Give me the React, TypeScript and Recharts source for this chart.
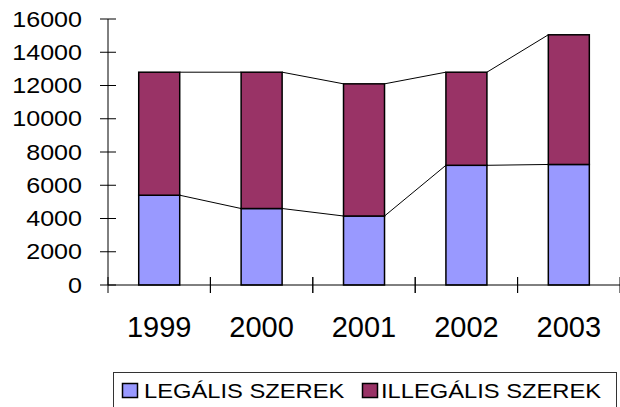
import { Bar, BarChart, XAxis, YAxis } from 'recharts';

const years = ['1999', '2000', '2001', '2002', '2003'];
const legal = [5400, 4600, 4150, 7200, 7250];
const illegal = [7400, 8200, 7950, 5600, 7800];
const yTicks = [0, 2000, 4000, 6000, 8000, 10000, 12000, 14000, 16000];
const seriesNames = ['LEGÁLIS SZEREK', 'ILLEGÁLIS SZEREK'];

const totals = legal.map((v, i) => v + illegal[i]);
const data = years.map((year, i) => ({ year, legal: legal[i], illegal: illegal[i] }));

const W = 620;
const H = 407;
const Y_AXIS_W = 108;
const PLOT_W = W - Y_AXIS_W;
const BAND = PLOT_W / years.length;
const FONT = '"Liberation Sans", Arial, sans-serif';
const LEGAL_COLOR = '#9999ff';
const ILLEGAL_COLOR = '#993366';

// bar with an Excel-style series line running to the next column
const makeShape = (key: 'legal' | 'illegal') => (props: any) => {
  const { x, y, width, height, index, fill } = props;
  const vals = key === 'legal' ? legal : illegal;
  const cum = key === 'legal' ? legal : totals;
  const k = height / vals[index];
  const hasNext = index < years.length - 1;
  return (
    <g>
      <rect x={x} y={y} width={width} height={height} fill={fill} stroke="#000" strokeWidth={1.5} />
      {hasNext && (
        <line
          x1={x + width}
          y1={y}
          x2={x + BAND}
          y2={y - (cum[index + 1] - cum[index]) * k}
          stroke="#000"
          strokeWidth={1}
        />
      )}
    </g>
  );
};

const YTick = (props: any) => {
  const { x, y, payload } = props;
  return (
    <g>
      <line x1={x - 8} x2={x + 8} y1={y} y2={y} stroke="#000" />
      <text
        transform={`translate(${x - 26},${y + 7.5}) scale(1.14,1)`}
        textAnchor="end"
        fontSize={22}
        fontFamily={FONT}
        fill="#000"
      >
        {payload.value}
      </text>
    </g>
  );
};

const XTick = (props: any) => {
  const { x, y, payload } = props;
  return (
    <g>
      <line x1={x - BAND / 2} x2={x - BAND / 2} y1={y - 8} y2={y + 8} stroke="#000" />
      <line x1={x + BAND / 2} x2={x + BAND / 2} y1={y - 8} y2={y + 8} stroke="#000" />
      <text x={x} y={y + 52} textAnchor="middle" fontSize={29} fontFamily={FONT} fill="#000">
        {payload.value}
      </text>
    </g>
  );
};

export default function App() {
  return (
    <div style={{ position: 'absolute', left: 0, top: 0, width: W, height: H, background: '#fff' }}>
      <BarChart
        width={W}
        height={H}
        data={data}
        margin={{ top: 19, right: 0, left: 0, bottom: 72 }}
        barCategoryGap="30%"
      >
        <XAxis
          dataKey="year"
          height={50}
          tickSize={0}
          tickMargin={0}
          tick={<XTick />}
          axisLine={{ stroke: '#000' }}
          tickLine={false}
          interval={0}
        />
        <YAxis
          width={Y_AXIS_W}
          domain={[0, 16000]}
          ticks={yTicks}
          tickSize={0}
          tickMargin={0}
          tick={<YTick />}
          axisLine={{ stroke: '#000' }}
          tickLine={false}
          interval={0}
        />
        <Bar dataKey="legal" stackId="a" fill={LEGAL_COLOR} shape={makeShape('legal')} isAnimationActive={false} />
        <Bar dataKey="illegal" stackId="a" fill={ILLEGAL_COLOR} shape={makeShape('illegal')} isAnimationActive={false} />
      </BarChart>
      <svg width={W} height={H} style={{ position: 'absolute', left: 0, top: 0, pointerEvents: 'none' }}>
        <rect x={113.5} y={372.5} width={503} height={40} fill="none" stroke="#333" />
        <rect x={122.5} y={383.5} width={15} height={14} fill={LEGAL_COLOR} stroke="#000" strokeWidth={1.5} />
        <text transform="translate(144,398) scale(1.13,1)" fontSize={21} fontFamily={FONT} fill="#000">
          {seriesNames[0]}
        </text>
        <rect x={362.5} y={383.5} width={15} height={14} fill={ILLEGAL_COLOR} stroke="#000" strokeWidth={1.5} />
        <text transform="translate(381,398) scale(1.13,1)" fontSize={21} fontFamily={FONT} fill="#000">
          {seriesNames[1]}
        </text>
      </svg>
    </div>
  );
}
